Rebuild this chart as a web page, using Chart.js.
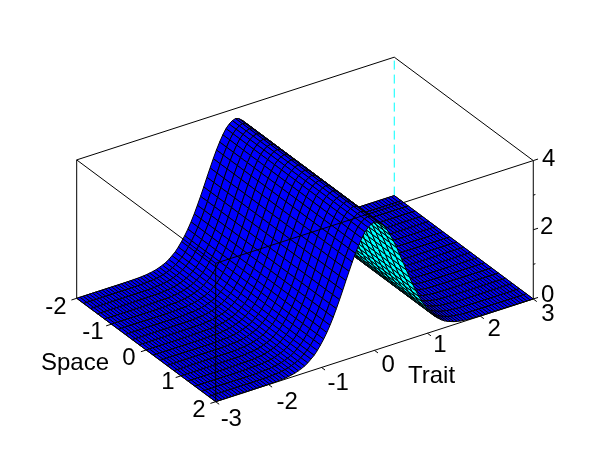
<!DOCTYPE html>
<html>
<head>
<meta charset="utf-8">
<style>
html, body { margin: 0; padding: 0; background: #fff; }
canvas { display: block; }
</style>
<script src="https://cdn.jsdelivr.net/npm/chart.js@4"></script>
</head>
<body>
<canvas id="myChart" width="610" height="460"></canvas>
<script>
// surface data
var spaceValues = [-2, -1.8, -1.6, -1.4, -1.2, -1, -0.8, -0.6, -0.4, -0.2, 0, 0.2, 0.4, 0.6, 0.8, 1, 1.2, 1.4, 1.6, 1.8, 2];
var traitValues = [
    -3, -2.94, -2.88, -2.82, -2.76, -2.7, -2.64, -2.58, -2.52, -2.46,
    -2.4, -2.34, -2.28, -2.22, -2.16, -2.1, -2.04, -1.98, -1.92, -1.86,
    -1.8, -1.74, -1.68, -1.62, -1.56, -1.5, -1.44, -1.38, -1.32, -1.26,
    -1.2, -1.14, -1.08, -1.02, -0.96, -0.9, -0.84, -0.78, -0.72, -0.66,
    -0.6, -0.54, -0.48, -0.42, -0.36, -0.3, -0.24, -0.18, -0.12, -0.06,
    0,
    0.06, 0.12, 0.18, 0.24, 0.3, 0.36, 0.42, 0.48, 0.54, 0.6,
    0.66, 0.72, 0.78, 0.84, 0.9, 0.96, 1.02, 1.08, 1.14, 1.2,
    1.26, 1.32, 1.38, 1.44, 1.5, 1.56, 1.62, 1.68, 1.74, 1.8,
    1.86, 1.92, 1.98, 2.04, 2.1, 2.16, 2.22, 2.28, 2.34, 2.4,
    2.46, 2.52, 2.58, 2.64, 2.7, 2.76, 2.82, 2.88, 2.94, 3
];
var ridgeHeight = [
    0, 0, 0, 0, 0, 0, 0, 0, 0, 0,
    0, 0, 0, 0.001, 0.001, 0.002, 0.003, 0.005, 0.008, 0.011,
    0.016, 0.023, 0.033, 0.046, 0.064, 0.087, 0.12, 0.155, 0.2, 0.26,
    0.34, 0.42, 0.53, 0.66, 0.8, 0.96, 1.14, 1.34, 1.56, 1.79,
    2.03, 2.28, 2.52, 2.76, 2.98, 3.18, 3.36, 3.51, 3.61, 3.68,
    3.71,
    3.68, 3.61, 3.51, 3.36, 3.18, 2.98, 2.76, 2.52, 2.28, 2.03,
    1.79, 1.56, 1.34, 1.14, 0.96, 0.8, 0.66, 0.53, 0.42, 0.34,
    0.26, 0.2, 0.155, 0.12, 0.087, 0.064, 0.046, 0.033, 0.023, 0.016,
    0.011, 0.008, 0.005, 0.003, 0.002, 0.001, 0.001, 0, 0, 0,
    0, 0, 0, 0, 0, 0, 0, 0, 0, 0
];
var spaceTicks = [-2, -1, 0, 1, 2];
var traitTicks = [-3, -2, -1, 0, 1, 2, 3];
var zTicks = [0, 1, 2, 3, 4];
var zTickLabels = [0, 2, 4];

// 3d view, fixed from the box corners
var view = { ox: 76.7, oy: 298.3, sx: 34.75, sy: 25.85, tx: 52.93, ty: -17.12, zy: 34.6 };
function project(s, t, z) {
    return {
        x: view.ox + (s + 2) * view.sx + (t + 3) * view.tx,
        y: view.oy + (s + 2) * view.sy + (t + 3) * view.ty - z * view.zy
    };
}

// hand tuned label nudges, same order as the tick lists
var spaceNudge = [[-20.7, 6.7], [-18.5, 5.9], [-17.2, 6], [-13, 5], [-16.7, 6.3]];
var traitNudge = [[15.6, 16], [18.6, 15.4], [16.7, 13.5], [13.8, 12.7], [12.6, 9.7], [13.7, 11], [14.7, 13]];
var zNudge = [[14.5, -6], [13.5, -3.9], [15.5, -2.7]];

function lineSet(points, color, dash) {
    return {
        data: points,
        showLine: true,
        fill: false,
        borderColor: color || '#000',
        borderWidth: 1,
        borderDash: dash || [],
        pointRadius: 0,
        clip: false
    };
}

// quad faces, far to near. backfaces are cyan
var faces = [];
for (var i = 0; i < spaceValues.length - 1; i++) {
    for (var j = traitValues.length - 2; j >= 0; j--) {
        var a = project(spaceValues[i], traitValues[j], ridgeHeight[j]);
        var b = project(spaceValues[i + 1], traitValues[j], ridgeHeight[j]);
        var c = project(spaceValues[i + 1], traitValues[j + 1], ridgeHeight[j + 1]);
        var d = project(spaceValues[i], traitValues[j + 1], ridgeHeight[j + 1]);
        var turn = (b.x - a.x) * (d.y - a.y) - (b.y - a.y) * (d.x - a.x);
        faces.push({
            data: [a, b, c, d, a],
            showLine: true,
            fill: 'shape',
            backgroundColor: turn < 0 ? '#0000ff' : '#00ffff',
            borderColor: '#000',
            borderWidth: 1,
            pointRadius: 0,
            clip: false
        });
    }
}

// box lines and tick marks go over the surface
var overlay = [
    lineSet([project(-2, -3, 0), project(-2, -3, 4), project(-2, 3, 4), project(2, 3, 4), project(2, -3, 4), project(-2, -3, 4)]),
    lineSet([project(2, -3, 0), project(2, -3, 4)]),
    lineSet([project(2, 3, 0), project(2, 3, 4)]),
    lineSet([project(-2, -3, 0), project(2, -3, 0), project(2, 3, 0)])
];
spaceTicks.forEach(function (s) {
    overlay.push(lineSet([project(s, -3, 0), project(s, -3.1, 0)]));
});
traitTicks.forEach(function (t) {
    overlay.push(lineSet([project(2, t, 0), project(2.1, t, 0)]));
});
zTicks.forEach(function (z) {
    var len = zTickLabels.indexOf(z) >= 0 ? 0.09 : 0.04;
    overlay.push(lineSet([project(2, 3, z), project(2, 3 + len, z)]));
});

var behind = [
    lineSet([project(-2, 3, 0), project(-2, 3, 4)], '#00ffff', [9, 5]),
    lineSet([project(-2, -3, 0), project(-2, 3, 0), project(2, 3, 0)])
];

var tickText = {
    id: 'tickText',
    afterDraw: function (chart) {
        var ctx = chart.ctx;
        var xs = chart.scales.x;
        var ys = chart.scales.y;
        function put(text, p, nudge) {
            ctx.fillText(text, xs.getPixelForValue(p.x) + nudge[0], ys.getPixelForValue(p.y) + nudge[1] + 8.6);
        }
        ctx.save();
        ctx.fillStyle = '#000';
        ctx.textAlign = 'center';
        ctx.textBaseline = 'alphabetic';
        ctx.font = '24px "Liberation Sans", Arial, sans-serif';
        spaceTicks.forEach(function (s, k) {
            put(String(s), project(s, -3, 0), spaceNudge[k]);
        });
        traitTicks.forEach(function (t, k) {
            put(String(t), project(2, t, 0), traitNudge[k]);
        });
        zTickLabels.forEach(function (z, k) {
            put(String(z), project(2, 3, z), zNudge[k]);
        });
        put('Space', { x: 75, y: 361 }, [0, 0]);
        put('Trait', { x: 431.5, y: 374.4 }, [0, 0]);
        ctx.restore();
    }
};

var ctx = document.getElementById('myChart').getContext('2d');
var myChart = new Chart(ctx, {
    type: 'scatter',
    data: {
        // first dataset is painted last
        datasets: overlay.concat(faces.reverse(), behind)
    },
    options: {
        responsive: false,
        animation: false,
        events: [],
        layout: { padding: 0 },
        plugins: { legend: { display: false }, tooltip: { enabled: false } },
        scales: {
            x: { type: 'linear', display: false, min: 0, max: 610 },
            y: { type: 'linear', display: false, min: 0, max: 460, reverse: true }
        }
    },
    plugins: [tickText]
});
</script>
</body>
</html>
